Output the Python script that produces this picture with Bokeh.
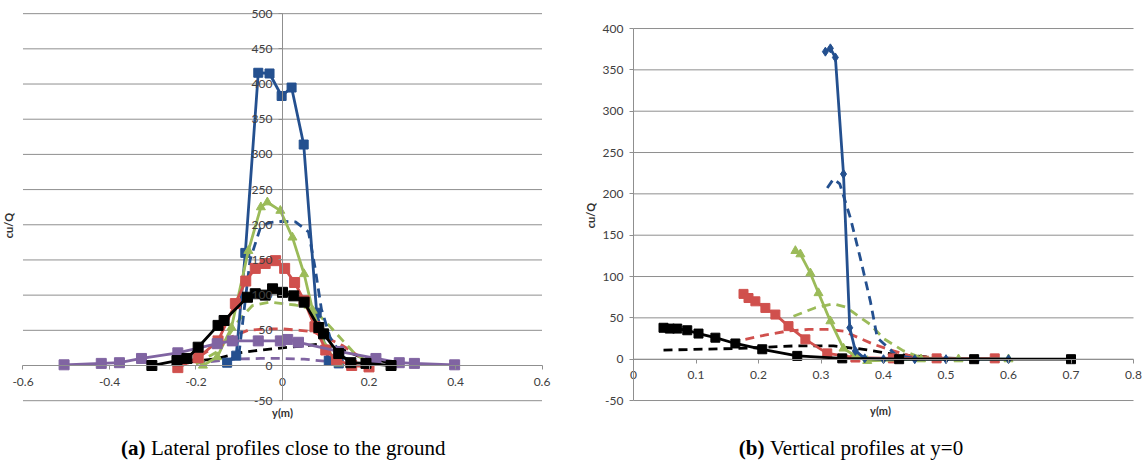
from bokeh.plotting import figure
from bokeh.models import FixedTicker, Label
from bokeh.layouts import row
from bokeh.embed import file_html
from bokeh.resources import INLINE

# ---------------- (a) Lateral profiles close to the ground ----------------
a_blue_x = [-0.128, -0.107, -0.086, -0.056, -0.030, -0.002, 0.021, 0.049, 0.079, 0.107, 0.130]
a_blue_y = [4, 14, 160, 416, 415, 383, 395, 314, 75, 7, 3]
a_blue_dash_x = [-0.13, -0.10, -0.075, -0.05, -0.03, 0.0, 0.03, 0.06, 0.075, 0.09, 0.11, 0.14, 0.17]
a_blue_dash_y = [2, 20, 150, 198, 203, 205, 204, 190, 140, 80, 40, 12, 4]
a_green_x = [-0.184, -0.151, -0.118, -0.079, -0.05, -0.035, -0.005, 0.023, 0.05, 0.07, 0.10, 0.13]
a_green_y = [0, 12, 54, 163, 225, 232, 220, 182, 130, 78, 25, 3]
a_green_dash_x = [-0.2, -0.15, -0.1, -0.07, -0.03, 0.0, 0.03, 0.07, 0.1, 0.14, 0.17, 0.2]
a_green_dash_y = [2, 20, 65, 85, 90, 88, 86, 80, 62, 35, 15, 5]
a_red_x = [-0.242, -0.195, -0.149, -0.109, -0.085, -0.063, -0.04, -0.016, 0.005, 0.028, 0.05, 0.075, 0.1, 0.125, 0.16, 0.2]
a_red_y = [-3, 11, 35, 88, 120, 138, 145, 149, 138, 118, 92, 55, 22, 8, 0, -2]
a_red_dash_x = [-0.22, -0.16, -0.12, -0.08, -0.04, 0.0, 0.04, 0.07, 0.1, 0.14, 0.18, 0.22]
a_red_dash_y = [3, 25, 40, 50, 52, 52, 50, 48, 40, 28, 12, 3]
a_black_x = [-0.302, -0.244, -0.221, -0.195, -0.149, -0.135, -0.081, -0.063, -0.04, -0.023, 0.0, 0.026, 0.05, 0.084, 0.095, 0.13, 0.158, 0.193, 0.251]
a_black_y = [0, 7, 10, 26, 57, 64, 97, 102, 100, 109, 104, 99, 90, 54, 45, 17, 4, 3, 0]
a_black_dash_x = [-0.25, -0.15, -0.1, -0.05, 0.0, 0.05, 0.08, 0.13, 0.18, 0.22, 0.25]
a_black_dash_y = [2, 10, 18, 22, 25, 28, 30, 25, 12, 8, 3]
a_purple_x = [-0.505, -0.419, -0.377, -0.326, -0.242, -0.151, -0.116, -0.056, -0.005, 0.012, 0.037, 0.13, 0.216, 0.27, 0.305, 0.398]
a_purple_y = [1, 3, 4, 10, 18, 31, 35, 35, 35, 37, 33, 20, 10, 4, 3, 1]
a_purple_dash_x = [-0.2, -0.12, -0.05, 0.0, 0.05, 0.1, 0.15]
a_purple_dash_y = [3, 9, 10, 10, 9, 6, 3]

a_xticks = [-0.6, -0.4, -0.2, 0.0, 0.2, 0.4, 0.6]
a_xlabels = ["-0.6", "-0.4", "-0.2", "0", "0.2", "0.4", "0.6"]
a_yticks = [-50, 0, 50, 100, 150, 200, 250, 300, 350, 400, 450, 500]
a_ylabels = ["-50", "0", "50", "100", "150", "200", "250", "300", "350", "400", "450", "500"]

# ---------------- (b) Vertical profiles at y=0 ----------------
b_blue_x = [0.307, 0.315, 0.323, 0.336, 0.346, 0.355, 0.37, 0.40, 0.45, 0.5, 0.55, 0.6]
b_blue_y = [372, 376, 365, 224, 38, 10, 1, 0, 0, 0, 0, 0]
b_blue_dash_x = [0.31, 0.32, 0.33, 0.347, 0.363, 0.379, 0.39, 0.42, 0.45]
b_blue_dash_y = [207, 218, 212, 171, 122, 70, 26, 5, 1]
b_green_x = [0.259, 0.267, 0.283, 0.296, 0.315, 0.336, 0.355, 0.374, 0.46, 0.52, 0.6]
b_green_y = [131, 127, 104, 80, 46, 13, 4, -2, 0, 0, 0]
b_green_dash_x = [0.256, 0.29, 0.32, 0.34, 0.36, 0.379, 0.4, 0.432, 0.46, 0.5, 0.55]
b_green_dash_y = [52, 62, 67, 63, 52, 42, 25, 10, 2, 0, 0]
b_red_x = [0.176, 0.184, 0.195, 0.211, 0.227, 0.248, 0.275, 0.31, 0.355, 0.415, 0.485, 0.578]
b_red_y = [79, 74, 70, 62, 54, 40, 24, 7, 2, 1, 1, 1]
b_red_dash_x = [0.179, 0.21, 0.246, 0.28, 0.31, 0.336, 0.363, 0.384, 0.416, 0.443, 0.5, 0.55]
b_red_dash_y = [24, 29, 34, 36, 36, 34, 25, 18, 10, 4, 1, 0]
b_black_x = [0.048, 0.058, 0.07, 0.086, 0.104, 0.131, 0.163, 0.206, 0.262, 0.334, 0.425, 0.545, 0.7]
b_black_y = [38, 37, 37, 35, 31, 26, 19, 12, 4, 1, 0, 0, 0]
b_black_dash_x = [0.048, 0.166, 0.256, 0.32, 0.368, 0.416, 0.48, 0.55]
b_black_dash_y = [11, 13, 16, 16, 12, 6, 2, 0]

b_xticks = [0.0, 0.1, 0.2, 0.3, 0.4, 0.5, 0.6, 0.7, 0.8]
b_xlabels = ["0", "0.1", "0.2", "0.3", "0.4", "0.5", "0.6", "0.7", "0.8"]
b_yticks = [-50, 0, 50, 100, 150, 200, 250, 300, 350, 400]
b_ylabels = ["-50", "0", "50", "100", "150", "200", "250", "300", "350", "400"]

BLUE = "#24508F"
RED = "#D0504D"
GREEN = "#9BBB59"
PURPLE = "#8064A2"
BLACK = "#000000"
GRID = "#8f8f8f"
TICKC = "#404040"
LW = 2.8
DASH = "9 6"


def style(p, xticks, xlabels, yticks, ylabels):
    p.outline_line_color = None
    p.xgrid.visible = False
    p.ygrid.visible = False
    # horizontal grid lines spanning exactly the tick extent of the x axis
    p.segment(x0=[min(xticks)] * len(yticks), x1=[max(xticks)] * len(yticks),
              y0=yticks, y1=yticks, line_color=GRID, line_width=1, level="underlay")
    for ax, ticks, labels in ((p.xaxis[0], xticks, xlabels), (p.yaxis[0], yticks, ylabels)):
        ax.ticker = FixedTicker(ticks=ticks)
        ax.major_label_overrides = {t: l for t, l in zip(ticks, labels)}
        ax.fixed_location = 0
        ax.bounds = (min(ticks), max(ticks))
        ax.axis_line_color = GRID
        ax.axis_line_width = 1
        ax.major_tick_line_color = GRID
        ax.major_tick_out = 4
        ax.major_tick_in = 0
        ax.minor_tick_line_color = None
        ax.major_label_text_font = "Lato"
        ax.major_label_text_font_size = "12px"
        ax.major_label_text_color = TICKC
    p.xaxis.major_label_standoff = 8
    p.yaxis.major_label_standoff = 6


def add_label(p, text, x, y, **kw):
    lab = Label(x=x, y=y, x_units="screen", y_units="screen", text=text, **kw)
    p.add_layout(lab)


AXL = dict(text_font="Lato", text_font_size="11px", text_font_style="bold",
           text_color="#303030", text_align="center", text_baseline="middle")
CAP = dict(text_font="Liberation Serif", text_font_size="21px", text_color="#000000",
           text_baseline="alphabetic")

# ---- figure (a): frame covers the whole figure
pa = figure(width=572, height=465, output_backend="svg", toolbar_location=None, title=None,
            x_range=(-0.652, 0.6705), y_range=(-142.1, 518.7),
            min_border_left=0, min_border_right=0, min_border_top=0, min_border_bottom=0)
style(pa, a_xticks, a_xlabels, a_yticks, a_ylabels)

pa.line(a_purple_dash_x, a_purple_dash_y, color=PURPLE, line_width=LW, line_dash=DASH)
pa.line(a_black_dash_x, a_black_dash_y, color=BLACK, line_width=LW, line_dash=DASH)
pa.line(a_red_dash_x, a_red_dash_y, color=RED, line_width=LW, line_dash=DASH)
pa.line(a_green_dash_x, a_green_dash_y, color=GREEN, line_width=LW, line_dash=DASH)
pa.line(a_blue_dash_x, a_blue_dash_y, color=BLUE, line_width=LW, line_dash=DASH)
pa.line(a_blue_x, a_blue_y, color=BLUE, line_width=LW)
pa.scatter(a_blue_x, a_blue_y, marker="square", size=9, color=BLUE)
pa.line(a_green_x, a_green_y, color=GREEN, line_width=LW)
pa.scatter(a_green_x, a_green_y, marker="triangle", size=9, color=GREEN)
pa.line(a_red_x, a_red_y, color=RED, line_width=LW)
pa.scatter(a_red_x, a_red_y, marker="square", size=10, color=RED)
pa.line(a_purple_x, a_purple_y, color=PURPLE, line_width=LW)
pa.scatter(a_purple_x, a_purple_y, marker="square", size=10, color=PURPLE)
pa.line(a_black_x, a_black_y, color=BLACK, line_width=LW)
pa.scatter(a_black_x, a_black_y, marker="square", size=10, color=BLACK)

add_label(pa, "y(m)", 282, 53, **AXL)
add_label(pa, "cu/Q", 8, 240, angle=1.5708, **AXL)
add_label(pa, "(a)", 145, 18, text_font_style="bold", text_align="right", **CAP)
add_label(pa, "Lateral profiles close to the ground", 150.5, 18, text_align="left", **CAP)

# ---- figure (b): frame covers the whole figure
pb = figure(width=573, height=465, output_backend="svg", toolbar_location=None, title=None,
            x_range=(-0.0976, 0.8192), y_range=(-128.6, 433.9),
            min_border_left=0, min_border_right=0, min_border_top=0, min_border_bottom=0)
style(pb, b_xticks, b_xlabels, b_yticks, b_ylabels)

pb.line(b_black_dash_x, b_black_dash_y, color=BLACK, line_width=LW, line_dash=DASH)
pb.line(b_red_dash_x, b_red_dash_y, color=RED, line_width=LW, line_dash=DASH)
pb.line(b_green_dash_x, b_green_dash_y, color=GREEN, line_width=LW, line_dash=DASH)
pb.line(b_blue_dash_x, b_blue_dash_y, color=BLUE, line_width=LW, line_dash=DASH)
pb.line(b_red_x, b_red_y, color=RED, line_width=LW)
pb.scatter(b_red_x, b_red_y, marker="square", size=9, color=RED)
pb.line(b_green_x, b_green_y, color=GREEN, line_width=LW)
pb.scatter(b_green_x, b_green_y, marker="triangle", size=9, color=GREEN)
pb.line(b_blue_x, b_blue_y, color=BLUE, line_width=LW)
pb.scatter(b_blue_x, b_blue_y, marker="diamond", size=9, color=BLUE)
pb.line(b_black_x, b_black_y, color=BLACK, line_width=LW)
pb.scatter(b_black_x, b_black_y, marker="square", size=9, color=BLACK)

add_label(pb, "y(m)", 308, 55, **AXL)
add_label(pb, "cu/Q", 18, 250, angle=1.5708, **AXL)
add_label(pb, "(b)", 192, 18, text_font_style="bold", text_align="right", **CAP)
add_label(pb, "Vertical profiles at y=0", 197.5, 18, text_align="left", **CAP)

layout = row(pa, pb)
open("out.html", "w").write(file_html(layout, INLINE))
